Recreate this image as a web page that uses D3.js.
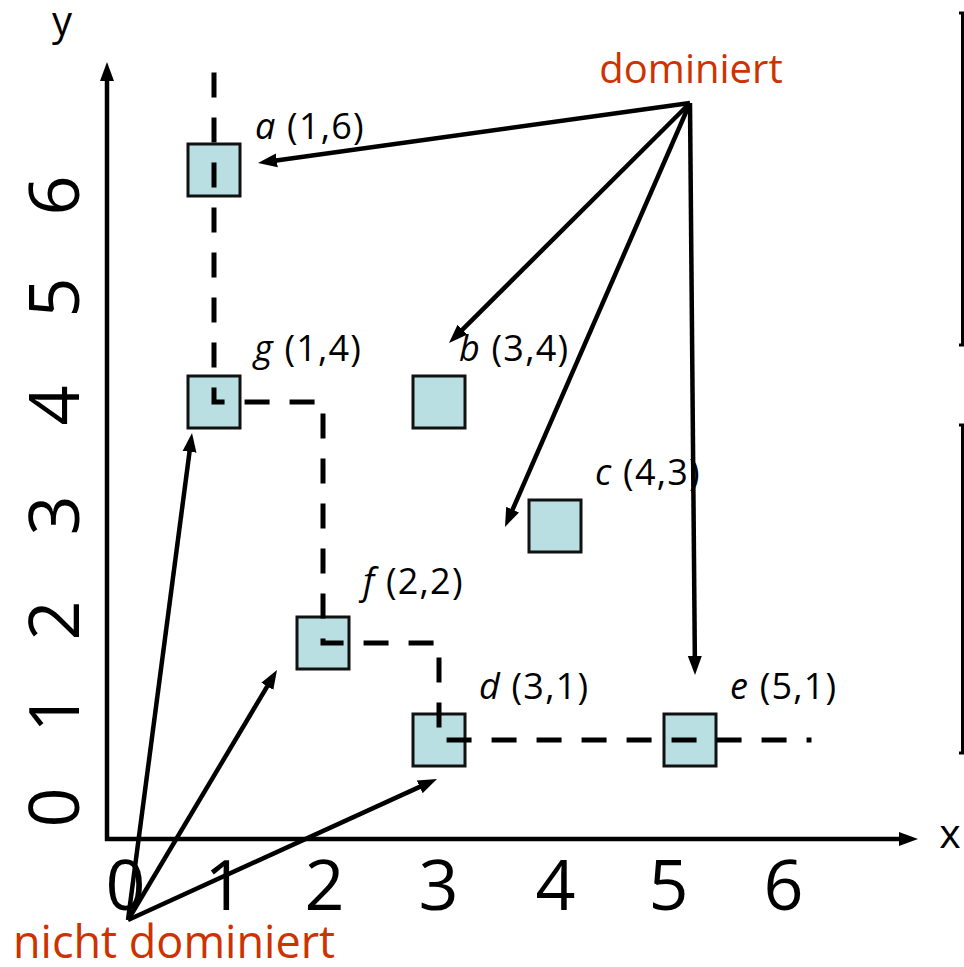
<!DOCTYPE html>
<html>
<head>
<meta charset="utf-8">
<script src="https://cdn.jsdelivr.net/npm/d3@7"></script>
<style>
  body { margin: 0; background: #fff; }
  svg { display: block; }
  text { font-family: "Open Sans", "Noto Sans", sans-serif; }
</style>
</head>
<body>
<svg id="chart" width="964" height="967"></svg>
<script>
// ---- data ----
const pointNames = ["a", "b", "c", "d", "e", "f", "g"];
const pointX = [1, 3, 4, 3, 5, 2, 1];
const pointY = [6, 4, 3, 1, 1, 2, 4];
const tickValues = [0, 1, 2, 3, 4, 5, 6];
const frontierNames = ["a", "g", "f", "d", "e"];      // Pareto frontier, top-left to bottom-right
const frontierEnds = { top: 6.84, right: 5.9 };      // where the dashed staircase runs out
const dominatedTargets = ["a", "b", "c", "e"];
const nonDominatedTargets = ["g", "f", "d"];
const axisTitles = { x: "x", y: "y" };
const calloutTexts = { dom: "dominiert", nonDom: "nicht dominiert" };

// ---- layout ----
const W = 964, H = 967;
const accent = "#cc3300";
const boxFill = "#b9dfe2";
const boxSize = 52;
const axisLeft = 107, axisBottom = 839, axisTop = 62, axisRight = 918;

// point placement scales (hand-drawn slide: spacing is not uniform)
const x = d3.scaleLinear().domain([1, 2, 3, 4, 5]).range([214, 323, 439, 555, 690]);
const y = d3.scaleLinear().domain([1, 2, 3, 4, 6]).range([740, 643, 526, 402, 170]);
// tick label scales
const xTick = d3.scaleLinear().domain(tickValues).range([125, 224, 324, 438, 555, 668, 783]);
const yTick = d3.scaleLinear().domain(tickValues).range([807, 712, 620, 515, 405, 297, 195]);

const points = pointNames.map((n, i) => ({ name: n, x: pointX[i], y: pointY[i] }));
const byName = Object.fromEntries(points.map(p => [p.name, p]));

// label offsets from the box centre (px)
const labelShift = { a: [41, -31], b: [20, -41], f: [40, -49] };
const defaultLabelShift = [40, -41];

// arrow tip offsets from the box centre (px)
const tipOffset = {
  a: [44, -7], b: [10, -59], c: [-50, 1], e: [5, -65],
  g: [-22, 31], f: [-46, 27], d: [-2, 39]
};

const svg = d3.select("#chart");
svg.append("rect").attr("width", W).attr("height", H).attr("fill", "#fff");

const defs = svg.append("defs");
defs.append("marker")
  .attr("id", "head")
  .attr("markerUnits", "userSpaceOnUse")
  .attr("viewBox", "0 -8 20 16")
  .attr("markerWidth", 20).attr("markerHeight", 16)
  .attr("refX", 6).attr("refY", 0)
  .attr("orient", "auto")
  .append("path").attr("d", "M0,-7L19,0L0,7Z").attr("fill", "#000");

// ---- axes ----
const axes = svg.append("g");
axes.append("line")
  .attr("x1", axisLeft).attr("y1", axisBottom + 2)
  .attr("x2", axisLeft).attr("y2", axisTop + 13)
  .attr("stroke", "#000").attr("stroke-width", 4.5)
  .attr("marker-end", "url(#head)");
axes.append("line")
  .attr("x1", axisLeft - 2).attr("y1", axisBottom)
  .attr("x2", axisRight - 13).attr("y2", axisBottom)
  .attr("stroke", "#000").attr("stroke-width", 4.5)
  .attr("marker-end", "url(#head)");

const xAxis = svg.append("g")
  .attr("transform", `translate(0,${axisBottom})`)
  .call(d3.axisBottom(xTick).tickValues(tickValues).tickSize(0).tickFormat(d3.format("d")));
xAxis.select(".domain").remove();
xAxis.selectAll("text")
  .attr("y", 71).attr("dy", 0)
  .attr("font-size", 70).attr("fill", "#000")
  .style("font-family", '"Open Sans", "Noto Sans", sans-serif');

const yAxis = svg.append("g")
  .call(d3.axisLeft(yTick).tickValues(tickValues).tickSize(0).tickFormat(d3.format("d")));
yAxis.select(".domain").remove();
yAxis.selectAll("text")
  .attr("x", 0).attr("y", 0).attr("dy", 0)
  .attr("text-anchor", "middle")
  .attr("transform", "translate(79,0) rotate(-90)")
  .attr("font-size", 70).attr("fill", "#000")
  .style("font-family", '"Open Sans", "Noto Sans", sans-serif');

svg.append("text").attr("x", 950).attr("y", 848)
  .attr("text-anchor", "middle").attr("font-size", 41).text(axisTitles.x);
svg.append("text").attr("x", 62).attr("y", 35)
  .attr("text-anchor", "middle").attr("font-size", 40).text(axisTitles.y);

// ---- boxes ----
svg.append("g").selectAll("rect")
  .data(points)
  .join("rect")
  .attr("x", d => x(d.x) - boxSize / 2)
  .attr("y", d => y(d.y) - boxSize / 2)
  .attr("width", boxSize).attr("height", boxSize)
  .attr("fill", boxFill)
  .attr("stroke", "#111").attr("stroke-width", 3);

// ---- dashed Pareto staircase ----
const frontierPts = [
  [byName[frontierNames[0]].x, frontierEnds.top],
  ...frontierNames.map(n => [byName[n].x, byName[n].y]),
  [frontierEnds.right, byName[frontierNames[frontierNames.length - 1]].y]
];
svg.append("path")
  .attr("d", d3.line().x(d => x(d[0])).y(d => y(d[1])).curve(d3.curveStepAfter)(frontierPts))
  .attr("fill", "none")
  .attr("stroke", "#000").attr("stroke-width", 5)
  .attr("stroke-dasharray", "25 20");

// ---- point labels ----
const labels = svg.append("g").selectAll("text")
  .data(points)
  .join("text")
  .attr("x", d => x(d.x) + (labelShift[d.name] || defaultLabelShift)[0])
  .attr("y", d => y(d.y) + (labelShift[d.name] || defaultLabelShift)[1])
  .attr("font-size", 36).attr("fill", "#000")
  .attr("letter-spacing", 1.2);
labels.append("tspan").attr("font-style", "italic").text(d => d.name);
labels.append("tspan").text(d => ` (${d.x},${d.y})`);

// ---- callouts with arrows ----
function arrows(origin, targets) {
  const g = svg.append("g");
  targets.forEach(n => {
    const p = byName[n];
    const off = tipOffset[n];
    const tx = x(p.x) + off[0], ty = y(p.y) + off[1];
    const dx = tx - origin[0], dy = ty - origin[1];
    const len = Math.hypot(dx, dy);
    const ex = tx - dx / len * 13, ey = ty - dy / len * 13;
    g.append("line")
      .attr("x1", origin[0]).attr("y1", origin[1])
      .attr("x2", ex).attr("y2", ey)
      .attr("stroke", "#000").attr("stroke-width", 4.5)
      .attr("marker-end", "url(#head)");
  });
}

svg.append("text").attr("x", 691).attr("y", 83)
  .attr("text-anchor", "middle").attr("font-size", 40).attr("fill", accent)
  .text(calloutTexts.dom);
arrows([690, 103], dominatedTargets);

svg.append("text").attr("x", 13).attr("y", 958)
  .attr("font-size", 45).attr("fill", accent)
  .text(calloutTexts.nonDom);
arrows([128, 920], nonDominatedTargets);

// ---- slide edge brackets ----
svg.append("g").selectAll("path")
  .data([[13, 345], [425, 753]])
  .join("path")
  .attr("d", d => `M959,${d[0]}H962.5V${d[1]}H959`)
  .attr("fill", "none").attr("stroke", "#000").attr("stroke-width", 3);
</script>
</body>
</html>
